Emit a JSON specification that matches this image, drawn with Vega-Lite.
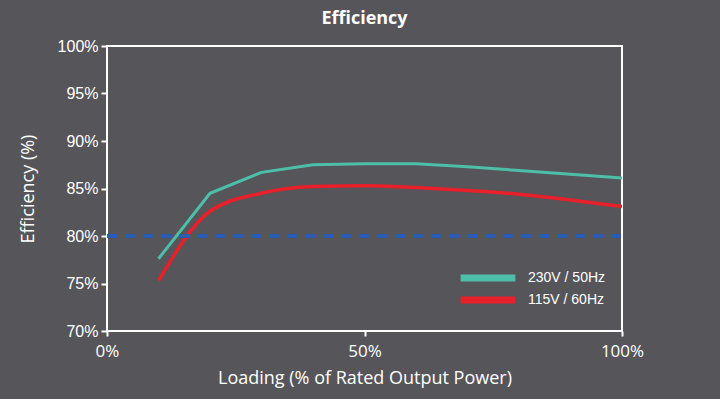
{
  "$schema": "https://vega.github.io/schema/vega-lite/v6.json",
  "width": 515,
  "height": 285,
  "autosize": {"type": "none"},
  "padding": {"left": 107, "top": 46, "right": 98, "bottom": 68},
  "background": "#56555a",
  "title": {
    "text": "Efficiency",
    "font": "Open Sans",
    "fontSize": 18,
    "fontWeight": "bold",
    "color": "#ffffff",
    "anchor": "middle",
    "offset": 10
  },
  "config": {
    "view": {"stroke": "#ffffff", "strokeWidth": 2, "fill": "#56555a"},
    "axis": {"grid": false, "domain": false, "tickColor": "#ffffff", "tickWidth": 2, "labelColor": "#ffffff", "titleColor": "#ffffff", "titleFont": "Open Sans", "titleFontSize": 18, "titleFontWeight": "normal"}
  },
  "data": {
    "values": [
      {"load": 10, "eff": 77.6, "series": "230V / 50Hz"},
      {"load": 20, "eff": 84.5, "series": "230V / 50Hz"},
      {"load": 30, "eff": 86.7, "series": "230V / 50Hz"},
      {"load": 40, "eff": 87.5, "series": "230V / 50Hz"},
      {"load": 50, "eff": 87.6, "series": "230V / 50Hz"},
      {"load": 60, "eff": 87.6, "series": "230V / 50Hz"},
      {"load": 70, "eff": 87.3, "series": "230V / 50Hz"},
      {"load": 80, "eff": 86.9, "series": "230V / 50Hz"},
      {"load": 90, "eff": 86.5, "series": "230V / 50Hz"},
      {"load": 100, "eff": 86.1, "series": "230V / 50Hz"},
      {"load": 10, "eff": 75.3, "series": "115V / 60Hz"},
      {"load": 20, "eff": 82.6, "series": "115V / 60Hz"},
      {"load": 30, "eff": 84.5, "series": "115V / 60Hz"},
      {"load": 40, "eff": 85.2, "series": "115V / 60Hz"},
      {"load": 50, "eff": 85.3, "series": "115V / 60Hz"},
      {"load": 60, "eff": 85.1, "series": "115V / 60Hz"},
      {"load": 70, "eff": 84.8, "series": "115V / 60Hz"},
      {"load": 80, "eff": 84.4, "series": "115V / 60Hz"},
      {"load": 90, "eff": 83.8, "series": "115V / 60Hz"},
      {"load": 100, "eff": 83.1, "series": "115V / 60Hz"}
    ]
  },
  "encoding": {
    "x": {
      "field": "load", "type": "quantitative",
      "scale": {"domain": [0, 100], "nice": false, "zero": false},
      "axis": {"values": [0, 50, 100], "title": "Loading (% of Rated Output Power)", "labelExpr": "datum.value + '%'", "labelFont": "Open Sans", "labelFontSize": 17, "tickSize": 5, "labelPadding": 7, "titlePadding": 10, "labelFlush": false}
    },
    "y": {
      "field": "eff", "type": "quantitative",
      "scale": {"domain": [70, 100], "nice": false, "zero": false},
      "axis": {"values": [70, 75, 80, 85, 90, 95, 100], "title": "Efficiency (%)", "labelExpr": "datum.value + '%'", "labelFont": "Liberation Sans", "labelFontSize": 16, "tickSize": 6, "labelPadding": 3, "titlePadding": 20}
    },
    "color": {
      "field": "series", "type": "nominal",
      "scale": {"domain": ["230V / 50Hz", "115V / 60Hz"], "range": ["#4dbfa8", "#e8202a"]},
      "legend": {
        "title": null, "orient": "none", "legendX": 350, "legendY": 221,
        "symbolType": "stroke", "symbolSize": 3000, "symbolStrokeWidth": 7,
        "clipHeight": 22, "rowPadding": 0,
        "labelColor": "#ffffff", "labelFont": "Liberation Sans", "labelFontSize": 14,
        "labelOffset": 9
      }
    }
  },
  "layer": [
    {
      "transform": [{"filter": "datum.series == '230V / 50Hz'"}],
      "mark": {"type": "line", "strokeWidth": 3, "interpolate": "linear"}
    },
    {
      "transform": [{"filter": "datum.series == '115V / 60Hz'"}],
      "mark": {"type": "line", "strokeWidth": 3.5, "interpolate": "monotone"}
    },
    {
      "mark": {"type": "rule", "color": "#2a5db5", "strokeWidth": 2.5, "strokeDash": [10, 8]},
      "encoding": {"y": {"datum": 80}, "x": {"value": 0}, "x2": {"value": 515}, "color": {"value": "#2a5db5"}}
    }
  ]
}
